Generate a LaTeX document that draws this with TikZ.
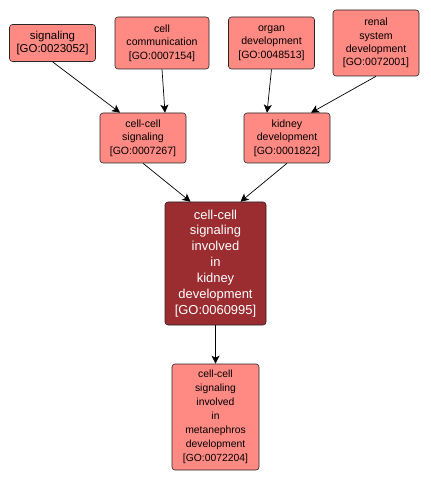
\documentclass[tikz,border=0pt]{standalone}
\usepackage{fontspec}
\setmainfont{Liberation Sans}
\usetikzlibrary{arrows.meta}
\definecolor{gopink}{HTML}{FF8A84}
\definecolor{godark}{HTML}{9B2C2F}
\begin{document}
\begin{tikzpicture}[x=1bp,y=-1bp,
  term/.style={draw=black!85, line width=0.6bp, rounded corners=3bp, fill=gopink, align=center, inner sep=0pt, text=black},
  edge/.style={draw=black, line width=0.7bp, -{Stealth[length=8bp,width=8bp,inset=2bp]}}]
\useasboundingbox (0,0) rectangle (430,482);
\fill[white] (0,0) rectangle (430,482);
\node[term, minimum width=86bp, minimum height=37bp, font=\fontsize{11.5}{13.5}\selectfont] (sig) at (52.5,43) {signaling\\{[GO:0023052]}};
\node[term, minimum width=94bp, minimum height=52bp, font=\fontsize{10.6}{13.5}\selectfont] (comm) at (162,43) {cell\\communication\\{[GO:0007154]}};
\node[term, minimum width=86bp, minimum height=52bp, font=\fontsize{10.6}{13.5}\selectfont] (organ) at (271.5,43) {organ\\development\\{[GO:0048513]}};
\node[term, minimum width=86bp, minimum height=66bp, font=\fontsize{10.6}{13.5}\selectfont] (renal) at (376,43) {renal\\system\\development\\{[GO:0072001]}};
\node[term, minimum width=86bp, minimum height=50bp, font=\fontsize{10.6}{13.5}\selectfont] (ccs) at (143,138) {cell-cell\\signaling\\{[GO:0007267]}};
\node[term, minimum width=86bp, minimum height=50bp, font=\fontsize{10.6}{13.5}\selectfont] (kid) at (287,138) {kidney\\development\\{[GO:0001822]}};
\node[term, fill=godark, text=white, minimum width=101bp, minimum height=123bp, font=\fontsize{13}{16}\selectfont] (main) at (215.5,263.5) {cell-cell\\signaling\\involved\\in\\kidney\\development\\{[GO:0060995]}};
\node[term, minimum width=87bp, minimum height=106bp, font=\fontsize{10.4}{14}\selectfont] (bot) at (215.5,417) {cell-cell\\signaling\\involved\\in\\metanephros\\development\\{[GO:0072204]}};
\draw[edge] (sig.south) -- ([xshift=-23bp]ccs.north);
\draw[edge] (comm.south) -- ([xshift=22bp]ccs.north);
\draw[edge] (organ.south) -- ([xshift=-20bp]kid.north);
\draw[edge] (renal.south) -- ([xshift=24bp]kid.north);
\draw[edge] (ccs.south) -- ([xshift=-25bp]main.north);
\draw[edge] (kid.south) -- ([xshift=25bp]main.north);
\draw[edge] (main.south) -- (bot.north);
\end{tikzpicture}
\end{document}
